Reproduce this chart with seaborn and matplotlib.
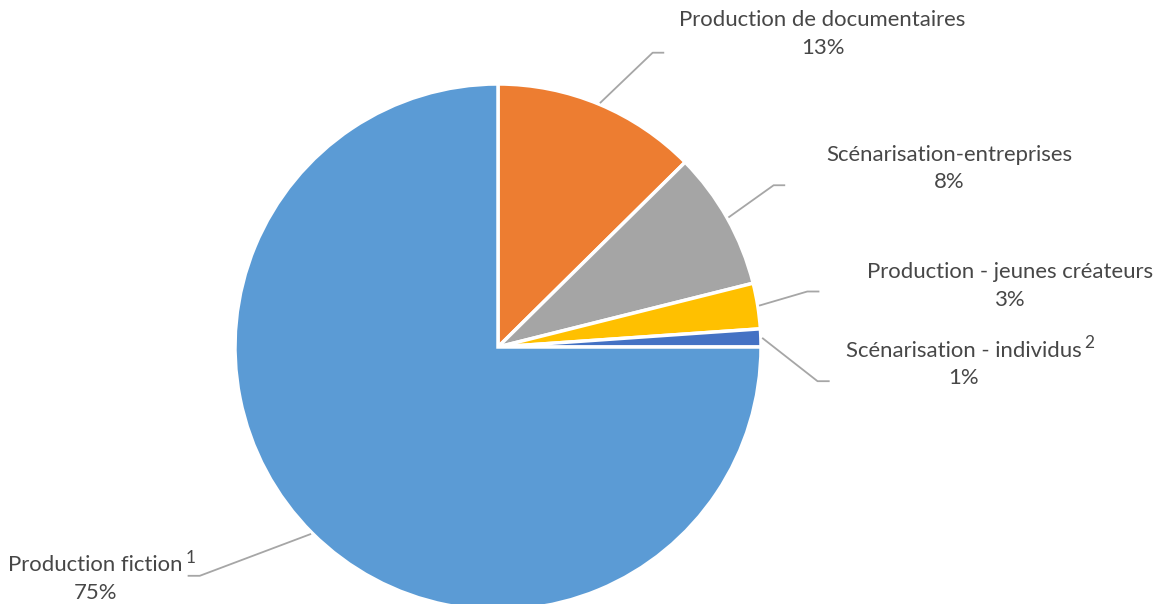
import matplotlib
matplotlib.use("Agg")
import matplotlib.pyplot as plt
import numpy as np
import seaborn as sns

# données (parts du budget, en %)
categories = [
    "Production de documentaires",
    "Scénarisation-entreprises",
    "Production - jeunes créateurs",
    "Scénarisation - individus",
    "Production fiction",
]
values = [12.6, 8.5, 2.8, 1.1, 75.0]
footnotes = ["", "", "", "2", "1"]
colors = ["#ED7D31", "#A5A5A5", "#FFC000", "#4472C4", "#5B9BD5"]

# mise en page des étiquettes (unités du rayon)
label_pos = [(1.234, 1.190), (1.716, 0.678), (1.948, 0.232), (1.770, -0.067), (-1.531, -0.882)]
elbow_pos = [(0.588, 1.119), (1.048, 0.615), (1.176, 0.211), (1.215, -0.130), (-1.134, -0.870)]
elbow_len = [0.044, 0.044, 0.046, 0.046, -0.046]

sns.set_style("white")
plt.rcParams['font.family'] = ['Lato', 'DejaVu Sans']
TXT = "#474747"

W, H, DPI = 1157, 604, 100
fig = plt.figure(figsize=(W / DPI, H / DPI), dpi=DPI)
cx, cy, r = 498, 347, 263
ax = fig.add_axes([(cx - r) / W, (H - cy - r) / H, 2 * r / W, 2 * r / H])

wedges, _ = ax.pie(
    values, colors=colors, startangle=90, counterclock=False, radius=1,
    wedgeprops=dict(edgecolor="white", linewidth=2.5),
)
ax.set_xlim(-1, 1)
ax.set_ylim(-1, 1)
ax.set_aspect("equal")
ax.axis("off")

for w, cat, v, fn, lp, ep, el in zip(wedges, categories, values, footnotes,
                                     label_pos, elbow_pos, elbow_len):
    mid = np.deg2rad((w.theta1 + w.theta2) / 2)
    ax0, ay0 = np.cos(mid) * 1.005, np.sin(mid) * 1.005
    ax.plot([ax0, ep[0], ep[0] + el], [ay0, ep[1], ep[1]],
            color="#A6A6A6", lw=1.3, clip_on=False, solid_capstyle="butt")
    t = ax.text(lp[0], lp[1], f"{cat}\n{v:.0f}%", ha="center", va="center",
                fontsize=15.9, color=TXT, linespacing=1.45, clip_on=False)
    if fn:
        ax.annotate(fn, xy=(1, 1), xycoords=t, xytext=(2, 4), textcoords="offset points",
                    ha="left", va="top", fontsize=12.5, color=TXT)

fig.savefig("out.png", dpi=DPI)
plt.close(fig)
